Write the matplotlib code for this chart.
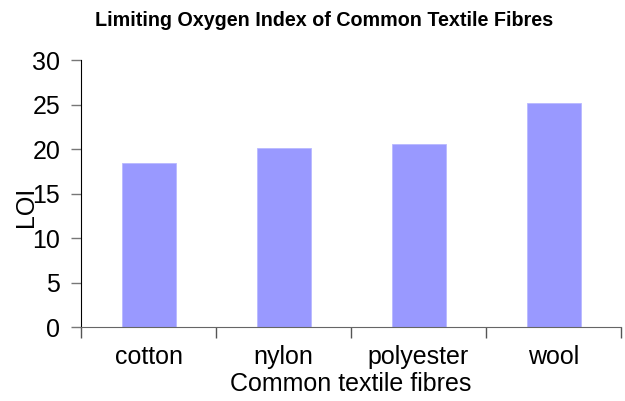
import matplotlib.pyplot as plt

fibres = ["cotton", "nylon", "polyester", "wool"]
loi = [18.4, 20.1, 20.6, 25.2]

plt.rcParams['font.family'] = ['Liberation Sans', 'DejaVu Sans']

fig = plt.figure(figsize=(6.25, 4.01), dpi=100)
ax = fig.add_axes([0.1296, 0.1845, 0.864, 0.6655])

x = range(len(fibres))
ax.bar(x, loi, width=0.4, color="#9999FF", edgecolor="#B8B8FF", linewidth=0.6)

ax.set_xlim(-0.5, len(fibres) - 0.5)
ax.set_ylim(0, 30)
ax.set_yticks(range(0, 31, 5))
ax.set_xticks([i - 0.5 for i in range(len(fibres) + 1)], minor=False)
ax.set_xticklabels([])
ax.set_xticks(list(x), minor=True)
ax.set_xticklabels(fibres, minor=True)

ax.tick_params(axis="x", which="major", length=8, width=1, color="#555555", direction="out")
ax.tick_params(axis="x", which="minor", length=0, labelsize=18, pad=13)
ax.tick_params(axis="y", length=7, width=1, color="#777777", labelsize=18, pad=8)

for s in ["top", "right"]:
    ax.spines[s].set_visible(False)
ax.spines["left"].set_color("black")
ax.spines["bottom"].set_color("#666666")

ax.set_xlabel("Common textile fibres", fontsize=18, labelpad=2)
ax.set_ylabel("LOI", fontsize=18)
ax.yaxis.set_label_coords(-0.08, 0.45)

fig.text(0.518, 0.95, "Limiting Oxygen Index of Common Textile Fibres",
         ha="center", va="center", fontsize=14.2, fontweight="bold")

fig.savefig("out.png", dpi=100)
